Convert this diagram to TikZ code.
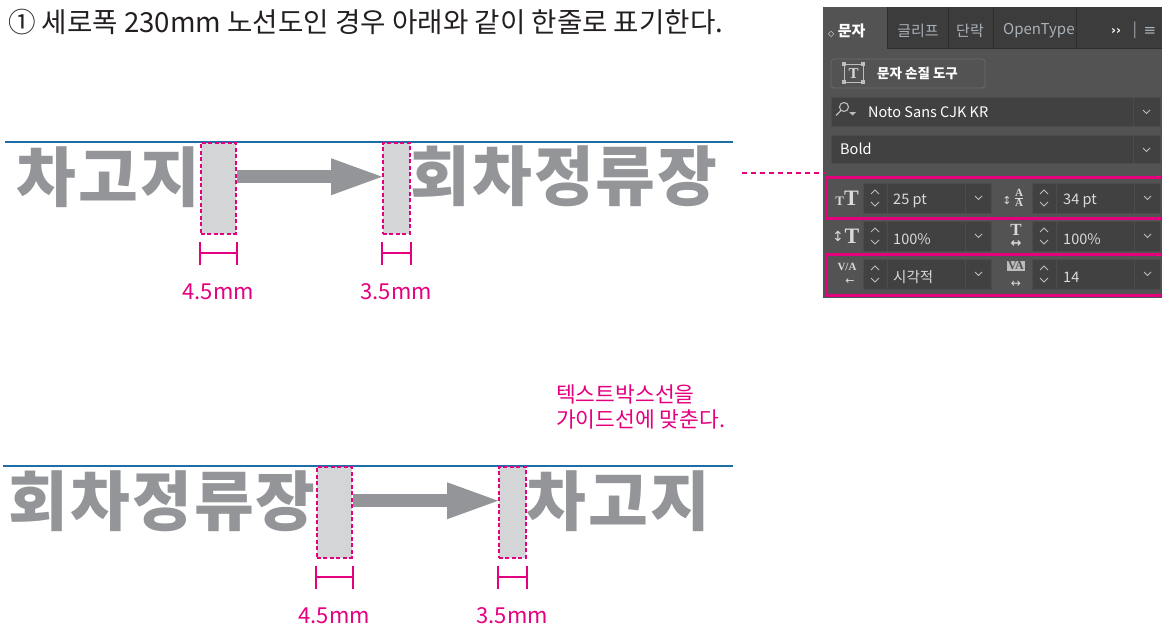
\documentclass[tikz,border=0pt]{standalone}
\usepackage{fontspec}
\setmainfont{Noto Sans CJK KR}
\newfontfamily\symfont{DejaVu Sans}
\newfontfamily\iconfont{Liberation Serif}
\newfontfamily\signfont[LetterSpace=3]{Noto Sans CJK KR}
\usetikzlibrary{arrows.meta,positioning}

\begin{document}
\begin{tikzpicture}[
  x=1pt, y=-1pt,
  sign/.style={inner sep=0, text=signgray, font=\signfont\fontsize{65}{65}\selectfont\bfseries},
  gap/.style={draw=magline, fill=boxgray, line width=1.5pt, dash pattern=on 4pt off 2.5pt, inner sep=0},
  dim/.style={draw=magline, line width=2pt},
  dimlabel/.style={text=magline, inner sep=0, font=\fontsize{22}{22}\selectfont},
  guide/.style={draw=guideblue, line width=1.1pt},
  fatarrow/.style={draw=signgray, line width=13pt, -{Triangle[length=51pt, width=37pt, line width=0pt]}},
  lead/.style={draw=magline, line width=1.1pt, dash pattern=on 5pt off 4pt},
  field/.style={fill=fieldbg, draw=fieldrim, line width=0.8pt},
  chev/.style={draw=chevgray, line width=1pt},
  ptext/.style={text=paneltext, inner sep=0, anchor=west, font=\fontsize{14.5}{14.5}\selectfont},
  tab/.style={text=tabtext, inner sep=0, font=\fontsize{15}{15}\selectfont},
  icon/.style={text=paneltext, inner sep=0, align=center, font=\iconfont\bfseries\fontsize{22}{22}\selectfont},
  arrowglyph/.style={text=paneltext, inner sep=0, font=\symfont\fontsize{11}{11}\selectfont},
  hilite/.style={draw=magline, line width=3pt, inner sep=0},
]
\definecolor{magline}{HTML}{E4007F}
\definecolor{signgray}{HTML}{939598}
\definecolor{boxgray}{HTML}{D4D5D7}
\definecolor{guideblue}{HTML}{1F6DA6}
\definecolor{inktext}{HTML}{231F20}
\definecolor{panelbg}{HTML}{535353}
\definecolor{tabbg}{HTML}{3C3C3C}
\definecolor{tabrim}{HTML}{2E2E2E}
\definecolor{tabtext}{HTML}{A9B0B8}
\definecolor{fieldbg}{HTML}{414141}
\definecolor{fieldrim}{HTML}{4C4C4C}
\definecolor{chevgray}{HTML}{BDBDBD}
\definecolor{paneltext}{HTML}{DADADA}

\useasboundingbox (0,0) rectangle (1162,629);

\node[anchor=west, inner sep=0, text=inktext, font=\fontsize{27.6}{27.6}\selectfont] (title) at (8,22) {① 세로폭 230mm 노선도인 경우 아래와 같이 한줄로 표기한다.};

% upper line: depot -> stop
\draw[guide] (5,142) -- (733,142);
\node[gap, anchor=north west, minimum width=35, minimum height=91] (gapa) at (200,142) {};
\node[gap, anchor=north west, minimum width=27, minimum height=91] (gapb) at (382,142) {};
\node[sign, anchor=east] (depota) at ([yshift=11.5pt]gapa.west) {차고지};
\node[sign, anchor=west] (stopa) at ([yshift=11.5pt]gapb.east) {회차정류장};
\draw[fatarrow] ([xshift=0.8pt,yshift=11.5pt]gapa.east) -- ([yshift=11.5pt]gapb.west);

% lower line: stop -> depot
\draw[guide] (3,466) -- (733,466);
\node[gap, anchor=north west, minimum width=35, minimum height=91] (gapc) at (316,466) {};
\node[gap, anchor=north west, minimum width=27, minimum height=91] (gapd) at (498,466) {};
\node[sign, anchor=east] (stopb) at ([yshift=11.5pt]gapc.west) {회차정류장};
\node[sign, anchor=west] (depotb) at ([yshift=11.5pt]gapd.east) {차고지};
\draw[fatarrow] ([xshift=0.8pt,yshift=11.5pt]gapc.east) -- ([yshift=11.5pt]gapd.west);

% widths
\foreach \g/\w in {gapa/4.5,gapb/3.5,gapc/4.5,gapd/3.5} {
  \draw[dim] ([yshift=-7pt]\g.south west) -- ([yshift=-30pt]\g.south west);
  \draw[dim] ([yshift=-7pt]\g.south east) -- ([yshift=-30pt]\g.south east);
  \draw[dim] ([yshift=-18.5pt]\g.south west) -- ([yshift=-18.5pt]\g.south east);
  \node[dimlabel] (\g-lbl) at ([yshift=-57pt]\g.south) {\w mm};
}

\node[anchor=north west, align=left, inner sep=0, text=magline, font=\fontsize{21.5}{25}\selectfont] (note) at (556,385) {텍스트박스선을\\가이드선에 맞춘다.};

% character panel
\begin{scope}[shift={(823,7)}]
\fill[panelbg] (0,0) rectangle (339,291);
\fill[tabbg] (64,0) rectangle (339,41);
\draw[tabrim] (64,0) -- (64,41) -- (339,41);
\draw[tabrim] (125,0) -- (125,41);
\draw[tabrim] (170,0) -- (170,41);
\draw[tabrim] (253,0) -- (253,41);
\node[tab, anchor=west, text=white, font=\fontsize{15}{15}\selectfont\bfseries] (tabchar) at (5,24) {{\symfont\fontsize{8}{8}\selectfont ◇} 문자};
\node[tab] (tabglyph) at (95,24) {글리프};
\node[tab] (tabpara) at (147,24) {단락};
\begin{scope}
\clip (170,0) rectangle (252,41);
\node[tab, anchor=west] (tabotf) at (180,24) {OpenType};
\end{scope}
\node[tab, text=white, font=\symfont\bfseries\fontsize{12}{12}\selectfont] (tabmore) at (293,24) {››};
\node[tab] (tabbar) at (312,23) {|};
\node[tab, font=\symfont\fontsize{15}{15}\selectfont] (tabmenu) at (327,24) {≡};

% touch type button
\draw[fill=panelbg, draw=black!58, line width=0.8pt, rounded corners=3pt] (8,52) rectangle (162,81);
\draw[chevgray, line width=1pt] (21,57) rectangle (40,75);
\foreach \cx/\cy in {21/57,40/57,21/75,40/75}
  \fill[chevgray] (\cx-2,\cy-2) rectangle (\cx+2,\cy+2);
\node[icon, font=\iconfont\bfseries\fontsize{15}{15}\selectfont] (touchicon) at (30.5,66.5) {T};
\node[ptext, text=white, font=\fontsize{13.5}{13.5}\selectfont\bfseries] (touchtxt) at (54,66) {문자 손질 도구};

% font family and style
\draw[field] (8,90) rectangle (337,119);
\draw[fieldrim] (310,90) -- (310,119);
\draw[chev] (320,103) -- (323.5,106.5) -- (327,103);
\draw[chevgray, line width=1.1pt] (21,100) circle [radius=4.5] (18,103.5) -- (13,108.5);
\fill[chevgray] (26,105) -- (33,105) -- (29.5,108.5) -- cycle;
\node[ptext, text=white] (fontname) at (45,105) {Noto Sans CJK KR};
\draw[field] (8,128) rectangle (337,156);
\draw[fieldrim] (310,128) -- (310,156);
\draw[chev] (320,141) -- (323.5,144.5) -- (327,141);
\node[ptext, text=white] (fontstyle) at (17,142) {Bold};

% size, leading, scale and kerning rows
\foreach \ry/\va/\vb in {176/25 pt/34 pt, 214/100\%/100\%, 252/시각적/14} {
  \begin{scope}[shift={(0,\ry)}]
  \foreach \dx in {0,169} {
    \draw[field] (40+\dx,0) rectangle (64+\dx,30);
    \draw[field] (64+\dx,0) rectangle (142+\dx,30);
    \draw[field] (142+\dx,0) rectangle (168+\dx,30);
    \draw[chev] (48+\dx,11) -- (52+\dx,7) -- (56+\dx,11) (48+\dx,19) -- (52+\dx,23) -- (56+\dx,19);
    \draw[chev] (152+\dx,13) -- (155.5+\dx,16.5) -- (159+\dx,13);
  }
  \node[ptext] (vala\ry) at (70,18) {\va};
  \node[ptext] (valb\ry) at (240,18) {\vb};
  \end{scope}
}

% row icons
\node[icon] (sizeicon) at (24,191) {{\fontsize{13}{13}\selectfont T}T};
\node[arrowglyph] (leadarrow) at (184,194) {↕};
\node[icon, font=\iconfont\bfseries\fontsize{11}{11}\selectfont] (leadicon) at (196,191) {\underline{A}\\[-1pt]A};
\node[arrowglyph, font=\symfont\fontsize{14}{14}\selectfont] (vscarrow) at (15,229) {↕};
\node[icon] (vscicon) at (29,229) {T};
\node[icon, font=\iconfont\bfseries\fontsize{17}{17}\selectfont] (hscicon) at (193,229) {T\\[-5pt]{\symfont\fontsize{13}{13}\selectfont ↔}};
\node[icon, font=\iconfont\bfseries\fontsize{11}{11}\selectfont] (kernicon) at (24,260) {V/A};
\node[arrowglyph] (kernarrow) at (27,275) {←};
\node[icon, fill=chevgray, text=panelbg, inner sep=1pt, font=\iconfont\bfseries\fontsize{12}{12}\selectfont] (trackicon) at (193,259) {VA};
\node[arrowglyph, font=\symfont\fontsize{12}{12}\selectfont] (trackarrow) at (193,277) {↔};

\node[hilite, anchor=north west, minimum width=336, minimum height=41] (sizerow) at (1.5,169) {};
\node[hilite, anchor=north west, minimum width=336, minimum height=41] (kernrow) at (1.5,246) {};
\end{scope}

\coordinate (leadstart) at (742,173);
\draw[lead] (leadstart) -- (leadstart -| sizerow.west);

\end{tikzpicture}
\end{document}
